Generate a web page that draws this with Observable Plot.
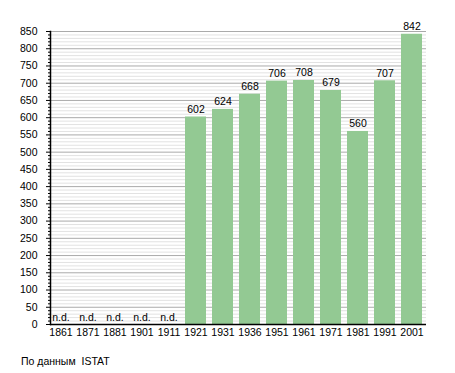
<!DOCTYPE html>
<html>
<head>
<meta charset="utf-8">
<script src="https://cdn.jsdelivr.net/npm/d3@7"></script>
<script src="https://cdn.jsdelivr.net/npm/@observablehq/plot@0.6"></script>
<style>
  body { margin: 0; background: #fff; font-family: "Liberation Sans", Arial, sans-serif; }
  #caption { position: absolute; left: 21px; top: 355px; font-size: 10.5px; color: #000; white-space: pre; }
</style>
</head>
<body>
<div id="chart"></div>
<div id="caption">По данным  ISTAT</div>
<script>
const years = ["1861","1871","1881","1901","1911","1921","1931","1936","1951","1961","1971","1981","1991","2001"];
const values = [null, null, null, null, null, 602, 624, 668, 706, 708, 679, 560, 707, 842];
const majorTicks = [0,50,100,150,200,250,300,350,400,450,500,550,600,650,700,750,800,850];
const minorTicks = d3.range(0, 851, 10).filter(v => v % 50 !== 0);
const noDataLabel = "n.d.";

const data = years.map((y, i) => ({year: y, value: values[i]}));
const present = data.filter(d => d.value != null);
const missing = data.filter(d => d.value == null);

const chart = Plot.plot({
  width: 455,
  height: 345,
  marginLeft: 50,
  marginRight: 29,
  marginTop: 31,
  marginBottom: 21,
  style: {fontFamily: "'Liberation Sans', Arial, sans-serif", fontSize: "10.5px", background: "#fff"},
  x: {domain: years, paddingInner: 0.234, paddingOuter: 0, align: 0, label: null},
  y: {domain: [0, 850], label: null},
  marks: [
    Plot.ruleY(minorTicks, {stroke: "#e2e2e2", strokeWidth: 1}),
    Plot.ruleY(majorTicks, {stroke: "#aaaaaa", strokeWidth: 1}),
    Plot.barY(present, {x: "year", y: "value", fill: "#93c993"}),
    Plot.text(present, {x: "year", y: "value", text: d => String(d.value), lineAnchor: "bottom", dy: -4, fill: "#000"}),
    Plot.text(missing, {x: "year", y: 0, text: () => noDataLabel, lineAnchor: "bottom", dy: -4, fill: "#000"}),
    Plot.axisY({ticks: minorTicks, tickSize: 2, tickFormat: () => "", stroke: "#000"}),
    Plot.axisY({ticks: majorTicks, tickSize: 4, tickPadding: 9, stroke: "#000", fill: "#000", label: null}),
    Plot.axisX({tickSize: 0, tickPadding: 4, fill: "#000", label: null}),
    Plot.ruleY([0], {stroke: "#000", strokeWidth: 1.5}),
    Plot.frame({anchor: "left", stroke: "#000", strokeWidth: 1.5})
  ]
});
document.getElementById("chart").appendChild(chart);
</script>
</body>
</html>
